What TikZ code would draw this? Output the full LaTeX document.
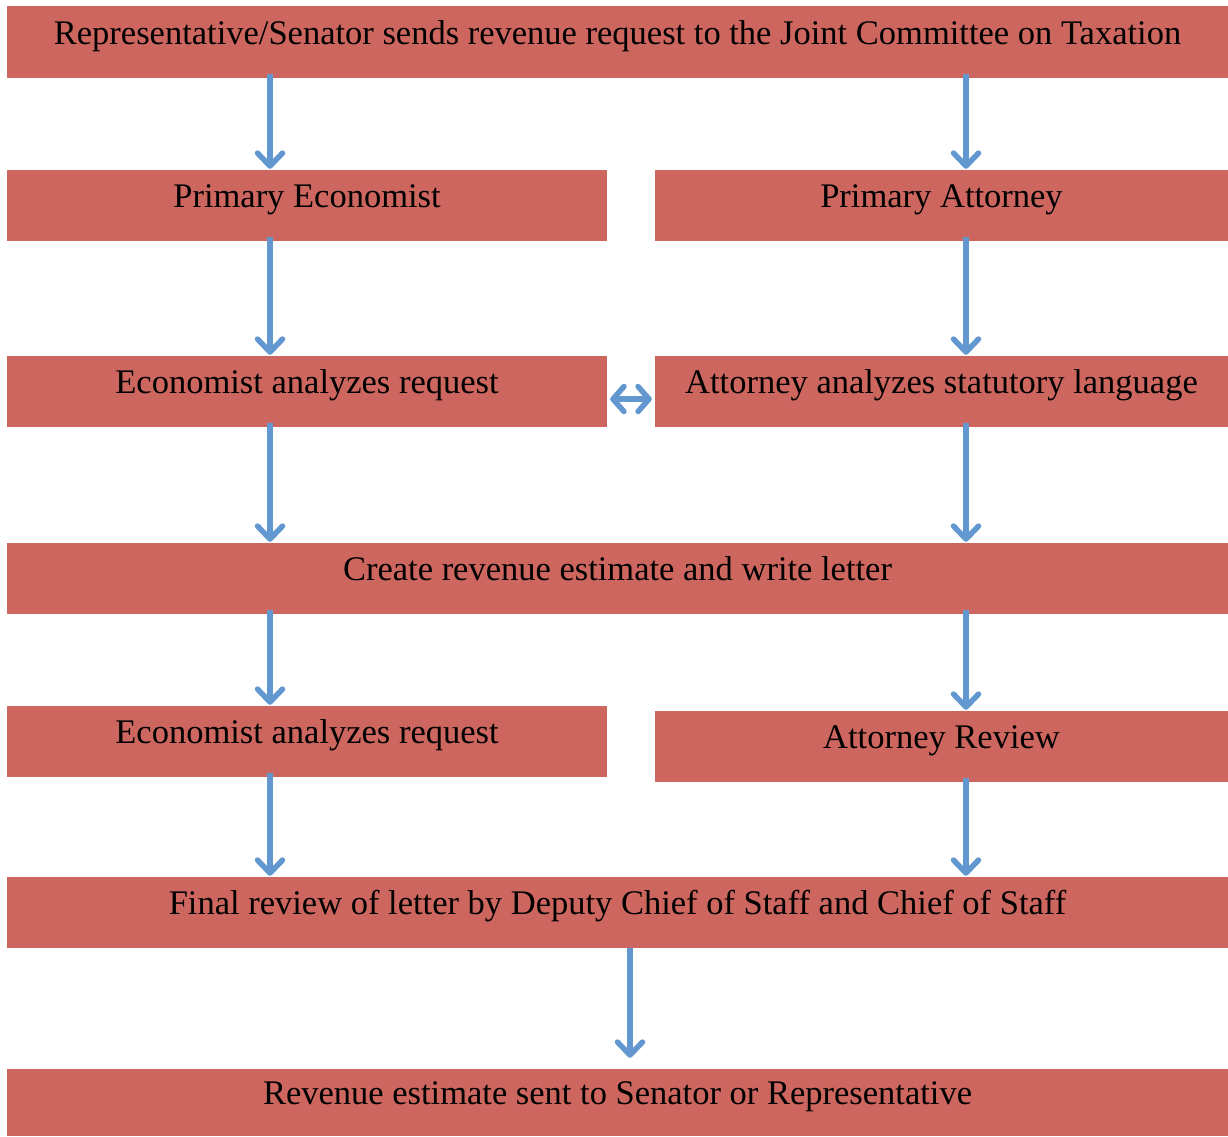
\documentclass[tikz,border=0pt]{standalone}
\usepackage{fontspec}
\setmainfont{Liberation Serif}
\usetikzlibrary{arrows.meta}
\definecolor{BoxRed}{RGB}{205,102,95}
\definecolor{FlowBlue}{RGB}{98,151,207}

\begin{document}
\begin{tikzpicture}[x=1pt, y=-1pt,
    stepbox/.style={fill=BoxRed, draw=none, inner sep=0pt, font=\fontsize{34.5}{40}\selectfont,
        text height=0.7em, text depth=0.22em, minimum height=71pt},
    wide/.style={stepbox, minimum width=1221pt},
    half/.style={stepbox, minimum width=600pt},
    halfr/.style={stepbox, minimum width=573pt},
    flow/.style={FlowBlue, line width=5.5pt, shorten <=-4pt, shorten >=1pt,
        -{Straight Barb[length=13pt, width=25pt, round]}}]
\useasboundingbox (0,0) rectangle (1228,1136);

% columns of the arrows
\coordinate (lx) at (270,0);
\coordinate (rx) at (966,0);
\coordinate (cx) at (630,0);

\node[wide, minimum height=72pt] (top) at (617.5,42) {Representative/Senator sends revenue request to the Joint Committee on Taxation};
\node[half] (econ) at (307,205.5) {Primary Economist};
\node[halfr] (atty) at (941.5,205.5) {Primary Attorney};
\node[half] (econA) at (307,391.5) {Economist analyzes request};
\node[halfr] (attyA) at (941.5,391.5) {Attorney analyzes statutory language};
\node[wide] (est) at (617.5,578.5) {Create revenue estimate and write letter};
\node[half] (econB) at (307,741.5) {Economist analyzes request};
\node[halfr] (attyB) at (941.5,746.5) {Attorney Review};
\node[wide] (final) at (617.5,912.5) {Final review of letter by Deputy Chief of Staff and Chief of Staff};
\node[wide, minimum height=67pt] (sent) at (617.5,1102.5) {Revenue estimate sent to Senator or Representative};

\draw[flow] (top.south -| lx) -- (econ.north -| lx);
\draw[flow] (top.south -| rx) -- (atty.north -| rx);
\draw[flow] (econ.south -| lx) -- (econA.north -| lx);
\draw[flow] (atty.south -| rx) -- (attyA.north -| rx);
\draw[flow] (econA.south -| lx) -- (est.north -| lx);
\draw[flow] (attyA.south -| rx) -- (est.north -| rx);
\draw[flow] (est.south -| lx) -- (econB.north -| lx);
\draw[flow] (est.south -| rx) -- (attyB.north -| rx);
\draw[flow] (econB.south -| lx) -- (final.north -| lx);
\draw[flow] (attyB.south -| rx) -- (final.north -| rx);
\draw[flow, shorten <=0pt, shorten >=11pt] (final.south -| cx) -- (sent.north -| cx);

% both ways between the analyses
\draw[FlowBlue, line width=5.5pt, shorten <=3pt, shorten >=3pt,
    {Straight Barb[length=11pt, width=25pt, round]}-{Straight Barb[length=11pt, width=25pt, round]}]
    (econA.east |- 0,399) -- (attyA.west |- 0,399);
\end{tikzpicture}
\end{document}
